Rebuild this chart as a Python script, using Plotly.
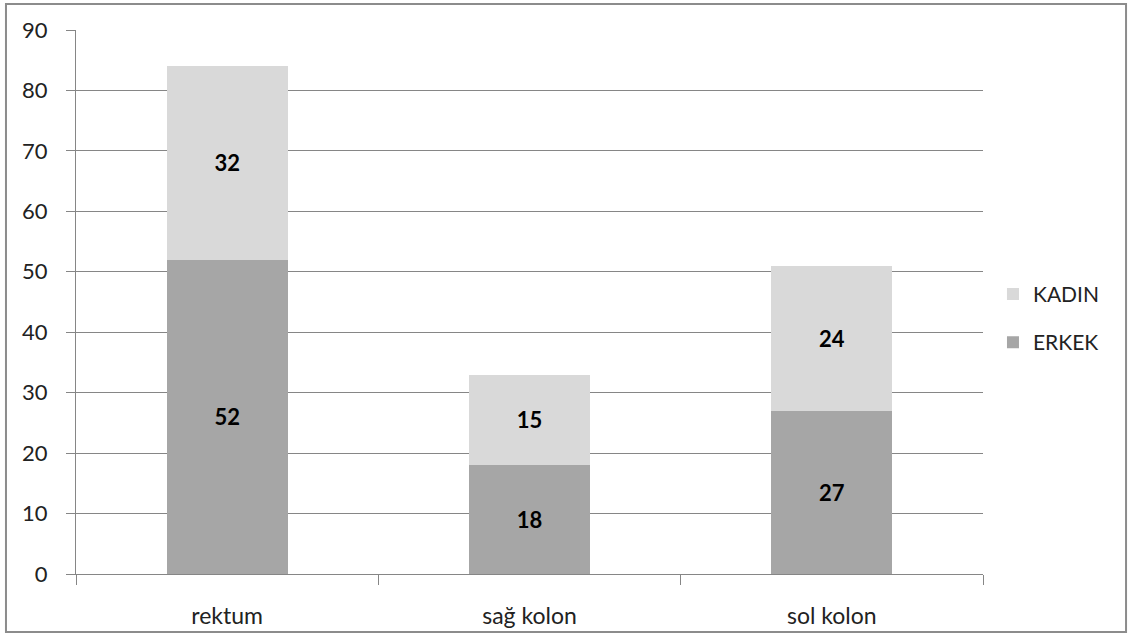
import plotly.graph_objects as go

categories = ["rektum", "sağ kolon", "sol kolon"]
erkek = [52, 18, 27]
kadin = [32, 15, 24]
y_ticks = [0, 10, 20, 30, 40, 50, 60, 70, 80, 90]

FONT = "Lato, Carlito, 'Open Sans', sans-serif"

fig = go.Figure()
fig.add_trace(go.Bar(
    x=categories, y=erkek, name="ERKEK", marker_color="#a6a6a6",
    text=erkek, texttemplate="<b>%{text}</b>", textposition="inside",
    insidetextanchor="middle", textfont=dict(color="black", size=22, family=FONT),
    legendgroup="e", legendrank=2, hoverinfo="skip", marker_line_width=0,
))
fig.add_trace(go.Bar(
    x=categories, y=kadin, name="KADIN", marker_color="#d9d9d9",
    text=kadin, texttemplate="<b>%{text}</b>", textposition="inside",
    insidetextanchor="middle", textfont=dict(color="black", size=22, family=FONT),
    legendgroup="k", legendrank=1, hoverinfo="skip", marker_line_width=0,
))

fig.update_layout(
    width=1131, height=635,
    barmode="stack", bargap=0.6,
    paper_bgcolor="white", plot_bgcolor="white",
    margin=dict(l=76, r=148, t=30, b=61),
    font=dict(family=FONT, size=22, color="#222222"),
    legend=dict(
        x=1.011, y=0.47, xanchor="left", yanchor="middle",
        traceorder="grouped", tracegroupgap=18,
        font=dict(size=21, family=FONT, color="#222222"),
        itemwidth=30,
    ),
    xaxis=dict(
        type="category", showgrid=False, showline=True, linecolor="#868686",
        linewidth=1, ticks="outside", tickson="boundaries", ticklen=10,
        tickcolor="#868686", tickfont=dict(size=23), ticklabelstandoff=21,
        automargin=False,
    ),
    yaxis=dict(
        range=[0, 90], tickvals=y_ticks, showgrid=True, gridcolor="#868686",
        gridwidth=1, showline=True, linecolor="#868686", linewidth=1,
        ticks="outside", ticklen=9, tickcolor="#868686", zeroline=False,
        tickfont=dict(size=22), ticklabelstandoff=14, automargin=False,
    ),
    shapes=[dict(
        type="rect", xref="paper", yref="paper",
        x0=-0.0772, x1=1.1577, y0=-0.1066, y1=1.0478,
        line=dict(color="#8c8c8c", width=2), fillcolor="rgba(0,0,0,0)",
    )],
)

fig.write_html("out.html")
